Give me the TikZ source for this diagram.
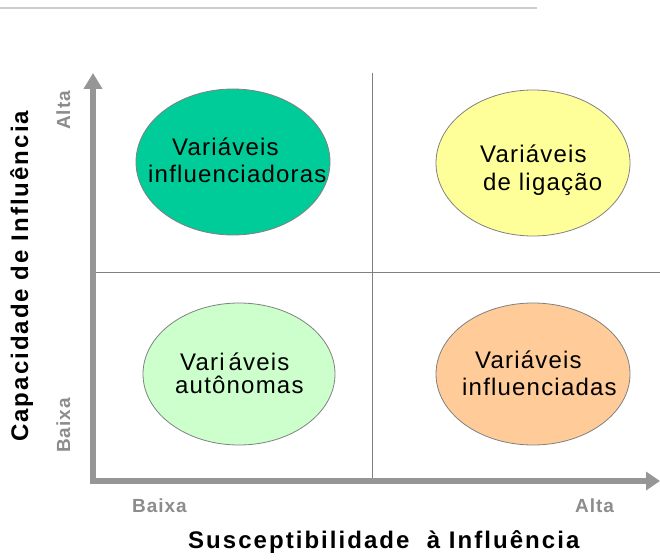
\documentclass[tikz,border=0pt]{standalone}
\usepackage{fontspec}
\setmainfont{Liberation Sans}
\newfontfamily\cellfont[LetterSpace=5]{Liberation Sans}
\newfontfamily\titlefont[LetterSpace=8.5]{Liberation Sans}
\newfontfamily\tickfont[LetterSpace=5]{Liberation Sans}
\usetikzlibrary{shapes.geometric,arrows.meta}
\definecolor{axisgray}{RGB}{150,150,150}
\definecolor{labelgray}{RGB}{140,140,140}
\definecolor{divgray}{RGB}{128,128,128}
\definecolor{cgreen}{HTML}{00CC99}
\definecolor{cyellow}{HTML}{FFFF99}
\definecolor{clight}{HTML}{CCFFCC}
\definecolor{corange}{HTML}{FFCC99}
\tikzset{
  blob/.style={ellipse, draw=divgray, line width=0.8pt, minimum width=194pt, minimum height=146pt, inner sep=0pt},
  celltext/.style={anchor=base west, inner sep=0pt, font=\cellfont\fontsize{24}{28}\selectfont, text=black},
  ticklabel/.style={anchor=base west, inner sep=0pt, font=\tickfont\bfseries\fontsize{19}{21}\selectfont, text=labelgray},
  axistitle/.style={anchor=base west, inner sep=0pt, font=\titlefont\bfseries\fontsize{24}{27}\selectfont, text=black},
  axisline/.style={draw=axisgray, line width=6pt, {Triangle[width=18pt,length=16pt]}-{Triangle[width=18pt,length=14pt]}},
  divider/.style={draw=divgray, line width=0.8pt}
}
\begin{document}
\begin{tikzpicture}[x=1pt,y=-1pt]
\useasboundingbox (0,0) rectangle (660,559);
% top rule
\coordinate (ruleL) at (0,8);
\coordinate (ruleR) at (537,8);
\draw[draw=black!20, line width=1.5pt] (ruleL) -- (ruleR);
% quadrant dividers
\coordinate (vtop) at (372,73);
\coordinate (vbot) at (372,478);
\coordinate (hleft) at (93,272);
\coordinate (hright) at (660,272);
\draw[divider] (vtop) -- (vbot);
\draw[divider] (hleft) -- (hright);
% ellipses
\node[blob, fill=cgreen] (infl) at (233,162) {};
\node[blob, fill=cyellow] (lig) at (533,163) {};
\node[blob, fill=clight, minimum width=192pt, minimum height=142pt] (aut) at (239,374) {};
\node[blob, fill=corange, minimum height=142pt] (infd) at (533,374) {};
% ellipse texts
\node[celltext] (t1a) at (172,155) {Variáveis};
\node[celltext] (t1b) at (148,182) {influenciadoras};
\node[celltext] (t2a) at (480,162) {Variáveis};
\node[celltext] (t2b) at (483,190) {de ligação};
\node[celltext] (t3a) at (180,370) {Vari\,áveis};
\node[celltext] (t3b) at (175,393) {autônomas};
\node[celltext] (t4a) at (475,368) {Variáveis};
\node[celltext] (t4b) at (462,395) {influenciadas};
% axes
\coordinate (ytip) at (93,73);
\coordinate (origin) at (93,481);
\coordinate (xtip) at (660,481);
\draw[axisline] (ytip) -- (origin) -- (xtip);
% tick labels
\node[ticklabel, rotate=90] (yalta) at (70,130) {Alta};
\node[ticklabel, rotate=90] (ybaixa) at (70,453) {Baixa};
\node[ticklabel] (xbaixa) at (132,512) {Baixa};
\node[ticklabel] (xalta) at (575,512) {Alta};
% axis titles
\node[axistitle, rotate=90] (ytitle) at (28,442) {Capacidade de Influência};
\node[axistitle] (xtitle) at (188,548) {Susceptibilidade\ \ à Influência};
\end{tikzpicture}
\end{document}
